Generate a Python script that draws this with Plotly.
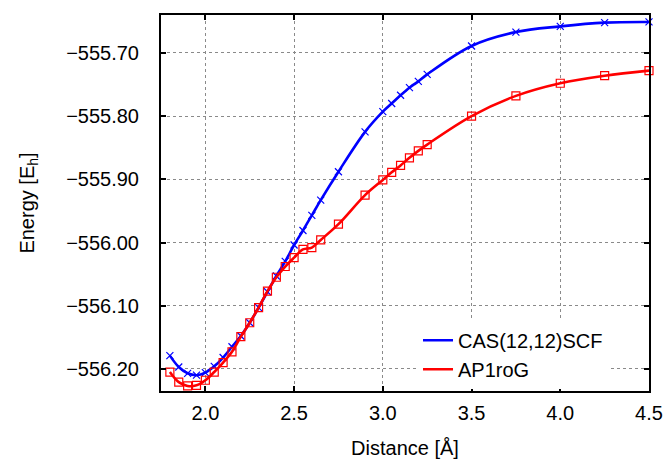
import plotly.graph_objects as go

# Data
cas_x = [1.80, 1.85, 1.90, 1.95, 2.00, 2.05, 2.10, 2.15, 2.20, 2.25, 2.30, 2.35, 2.40,
         2.45, 2.50, 2.55, 2.60, 2.65, 2.75, 2.90, 3.00, 3.05, 3.10, 3.15, 3.20, 3.25,
         3.50, 3.75, 4.00, 4.25, 4.50]
cas_y = [-556.179, -556.197, -556.207, -556.210, -556.206, -556.196, -556.182, -556.165,
         -556.148, -556.127, -556.103, -556.078, -556.053, -556.030, -556.004, -555.981,
         -555.957, -555.933, -555.888, -555.825, -555.793, -555.780, -555.767, -555.755,
         -555.745, -555.734, -555.689, -555.667, -555.658, -555.652, -555.651]

ap_x = [1.80, 1.85, 1.90, 1.95, 2.00, 2.05, 2.10, 2.15, 2.20, 2.25, 2.30, 2.35, 2.40,
        2.45, 2.50, 2.55, 2.60, 2.65, 2.75, 2.90, 3.00, 3.05, 3.10, 3.15, 3.20, 3.25,
        3.50, 3.75, 4.00, 4.25, 4.50]
ap_y = [-556.205, -556.221, -556.227, -556.226, -556.218, -556.205, -556.190, -556.173,
        -556.149, -556.127, -556.103, -556.077, -556.055, -556.038, -556.024, -556.011,
        -556.008, -555.996, -555.971, -555.925, -555.901, -555.889, -555.878, -555.866,
        -555.855, -555.845, -555.800, -555.768, -555.748, -555.736, -555.728]

x_ticks = [2.0, 2.5, 3.0, 3.5, 4.0, 4.5]
y_ticks = [-556.20, -556.10, -556.00, -555.90, -555.80, -555.70]

FONT = "Liberation Sans, Arial, Helvetica, sans-serif"

fig = go.Figure()
fig.add_trace(go.Scatter(x=cas_x, y=cas_y, mode="lines+markers", name="CAS(12,12)SCF",
                         line=dict(color="#0000ff", width=2.6, shape="spline"),
                         marker=dict(symbol="x-thin-open", size=7, color="#0000ff",
                                     line=dict(width=1.2, color="#0000ff")),
                         cliponaxis=False, showlegend=False))
fig.add_trace(go.Scatter(x=ap_x, y=ap_y, mode="lines+markers", name="AP1roG",
                         line=dict(color="#ff0000", width=2.6, shape="spline"),
                         marker=dict(symbol="square-open", size=8, color="#ff0000",
                                     line=dict(width=1.2, color="#ff0000")),
                         cliponaxis=False, showlegend=False))
# legend entries (lines only, as in the reference)
fig.add_trace(go.Scatter(x=[None], y=[None], mode="lines", name="CAS(12,12)SCF",
                         line=dict(color="#0000ff", width=2.6)))
fig.add_trace(go.Scatter(x=[None], y=[None], mode="lines", name="AP1roG",
                         line=dict(color="#ff0000", width=2.6)))

axis_common = dict(showline=True, linecolor="black", linewidth=2, mirror="allticks",
                   ticks="inside", ticklen=5, tickwidth=2, tickcolor="black",
                   showgrid=True, gridcolor="#8a8a8a", gridwidth=1, griddash="dot",
                   zeroline=False, automargin=False,
                   tickfont=dict(family=FONT, size=20, color="black"))

fig.update_xaxes(range=[1.75, 4.5], tickvals=x_ticks, tickformat=".1f",
                 title=dict(text="Distance [Å]", font=dict(family=FONT, size=20, color="black"),
                            standoff=21),
                 ticklabelstandoff=3, **axis_common)
fig.update_yaxes(range=[-556.235, -555.64], tickvals=y_ticks, tickformat=".2f",
                 title=dict(text="Energy [E<sub>h</sub>]", font=dict(family=FONT, size=20, color="black"),
                            standoff=26),
                 ticklabelstandoff=16, **axis_common)

fig.update_layout(width=664, height=459,
                  margin=dict(l=161, r=15, t=15, b=68),
                  plot_bgcolor="white", paper_bgcolor="white",
                  font=dict(family=FONT, size=20, color="black"),
                  legend=dict(x=0.916, y=0.006, xanchor="right", yanchor="bottom",
                              bgcolor="white", borderwidth=0,
                              font=dict(family=FONT, size=20, color="black"),
                              tracegroupgap=0, itemwidth=30))

fig.write_html("out.html", config={"displayModeBar": False},
               post_script="document.body.style.margin='0';document.body.style.padding='0';")
